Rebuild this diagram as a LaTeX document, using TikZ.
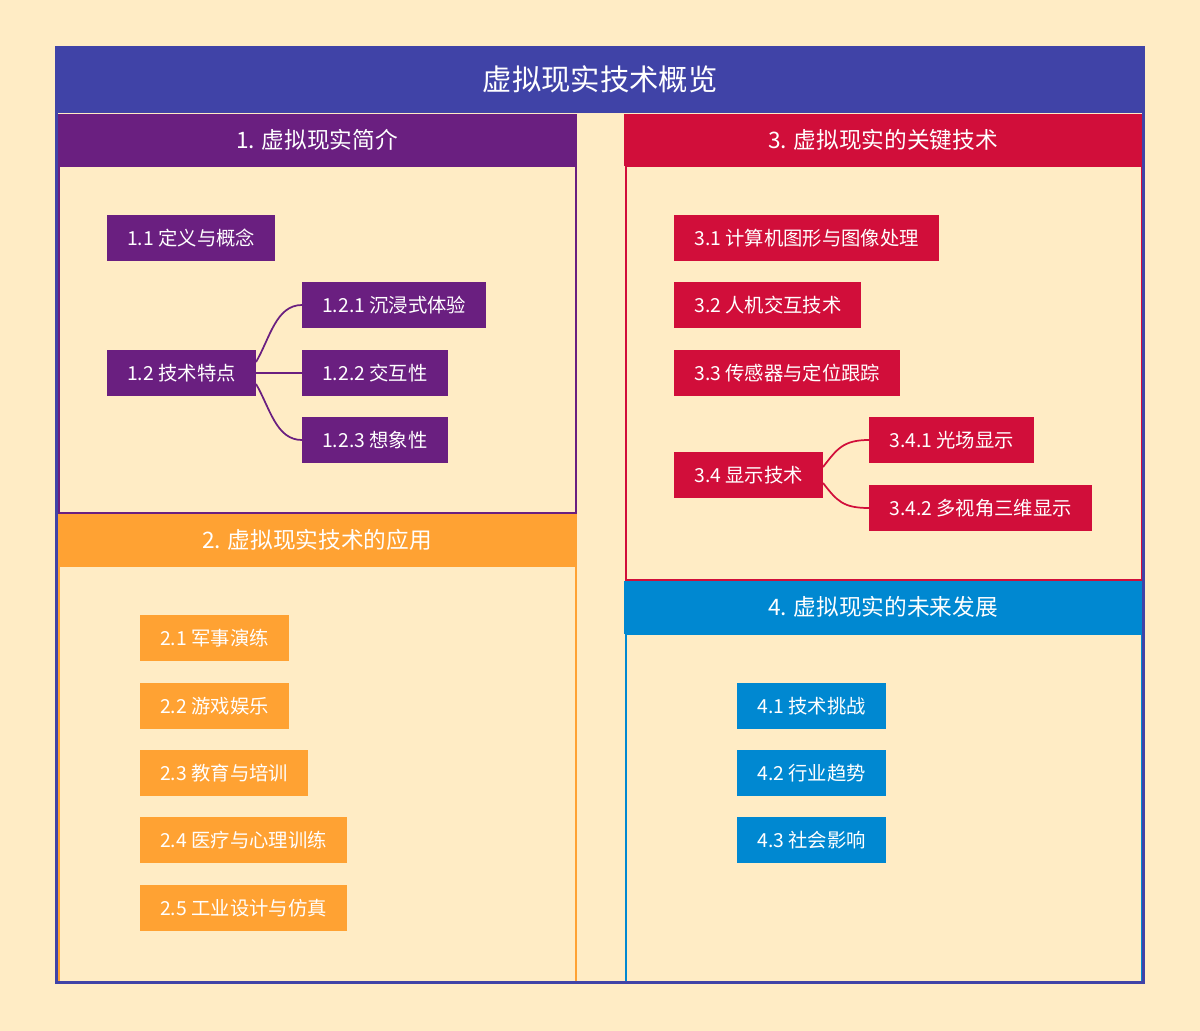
\documentclass[tikz,border=0pt]{standalone}
\usepackage{fontspec}
\setmainfont{Noto Sans CJK SC}
\usetikzlibrary{calc}

\definecolor{bgcream}{RGB}{255,236,197}
\definecolor{titleblue}{RGB}{64,67,167}
\definecolor{secpurple}{RGB}{106,31,128}
\definecolor{secorange}{RGB}{255,162,51}
\definecolor{seccrimson}{RGB}{209,14,58}
\definecolor{secblue}{RGB}{0,136,209}

\tikzset{
  leaf/.style={anchor=west, text=white, inner xsep=15pt, inner ysep=0pt,
    minimum height=34.5pt, font=\fontsize{14.5}{16}\selectfont},
  sechead/.style={text=white, inner sep=0pt, font=\fontsize{17}{19}\selectfont},
  link/.style={line width=1.3pt}
}

\begin{document}
\begin{tikzpicture}[x=0.75pt,y=0.75pt,yscale=-1,xscale=1]
%Background
\fill[bgcream] (0,0) rectangle (1200,1031);
\useasboundingbox (0,0) rectangle (1200,1031);

%Shape: Title band
\fill[titleblue] (55,47) rectangle (1145,113);

%Shape: Section 1
\fill[secpurple] (57,114) rectangle (577,166);
\draw[secpurple, line width=1.5pt] (58.5,166) rectangle (575.5,513);
%Shape: Section 2
\fill[secorange] (57,514) rectangle (577,566);
\draw[secorange, line width=1.5pt] (58.5,566) rectangle (575.5,982);
%Shape: Section 3
\fill[seccrimson] (624,114) rectangle (1143,166);
\draw[seccrimson, line width=1.5pt] (625.5,166) rectangle (1141.5,580);
%Shape: Section 4
\fill[secblue] (624,581) rectangle (1143,634);
\draw[secblue, line width=1.5pt] (625.5,634) rectangle (1141.5,982);

%Shape: Outer frame
\draw[titleblue, line width=2.25pt] (56.5,48) rectangle (1143.5,982);

% Text Node
\node[text=white, font=\fontsize{22}{24}\selectfont] (title) at (600,79) {虚拟现实技术概览};
% Text Node
\node[sechead] (s1) at (317,140) {1. 虚拟现实简介};
\node[sechead] (s2) at (317,540) {2. 虚拟现实技术的应用};
\node[sechead] (s3) at (883,140) {3. 虚拟现实的关键技术};
\node[sechead] (s4) at (883,607) {4. 虚拟现实的未来发展};

%Section 1 nodes
\node[leaf, fill=secpurple] (n11) at (107,238) {1.1 定义与概念};
\node[leaf, fill=secpurple] (n12) at (107,373) {1.2 技术特点};
\node[leaf, fill=secpurple] (n121) at (302,305) {1.2.1 沉浸式体验};
\node[leaf, fill=secpurple] (n122) at (302,373) {1.2.2 交互性};
\node[leaf, fill=secpurple] (n123) at (302,440) {1.2.3 想象性};

%Section 2 nodes
\node[leaf, fill=secorange] (n21) at (140,638) {2.1 军事演练};
\node[leaf, fill=secorange] (n22) at (140,706) {2.2 游戏娱乐};
\node[leaf, fill=secorange] (n23) at (140,773) {2.3 教育与培训};
\node[leaf, fill=secorange] (n24) at (140,840) {2.4 医疗与心理训练};
\node[leaf, fill=secorange] (n25) at (140,908) {2.5 工业设计与仿真};

%Section 3 nodes
\node[leaf, fill=seccrimson] (n31) at (674,238) {3.1 计算机图形与图像处理};
\node[leaf, fill=seccrimson] (n32) at (674,305) {3.2 人机交互技术};
\node[leaf, fill=seccrimson] (n33) at (674,373) {3.3 传感器与定位跟踪};
\node[leaf, fill=seccrimson] (n34) at (674,475) {3.4 显示技术};
\node[leaf, fill=seccrimson] (n341) at (869,440) {3.4.1 光场显示};
\node[leaf, fill=seccrimson] (n342) at (869,508) {3.4.2 多视角三维显示};

%Section 4 nodes
\node[leaf, fill=secblue] (n41) at (737,706) {4.1 技术挑战};
\node[leaf, fill=secblue] (n42) at (737,773) {4.2 行业趋势};
\node[leaf, fill=secblue] (n43) at (737,840) {4.3 社会影响};

%Connectors
\draw[link, secpurple] ($(n12.east)+(0,-11)$) .. controls +(14,-24) and +(-26,0) .. (n121.west);
\draw[link, secpurple] (n12.east) -- (n122.west);
\draw[link, secpurple] ($(n12.east)+(0,11)$) .. controls +(14,24) and +(-26,0) .. (n123.west);
\draw[link, seccrimson] ($(n34.east)+(0,-8)$) .. controls +(14,-18) and +(-26,0) .. (n341.west);
\draw[link, seccrimson] ($(n34.east)+(0,8)$) .. controls +(14,18) and +(-26,0) .. (n342.west);

\end{tikzpicture}
\end{document}
